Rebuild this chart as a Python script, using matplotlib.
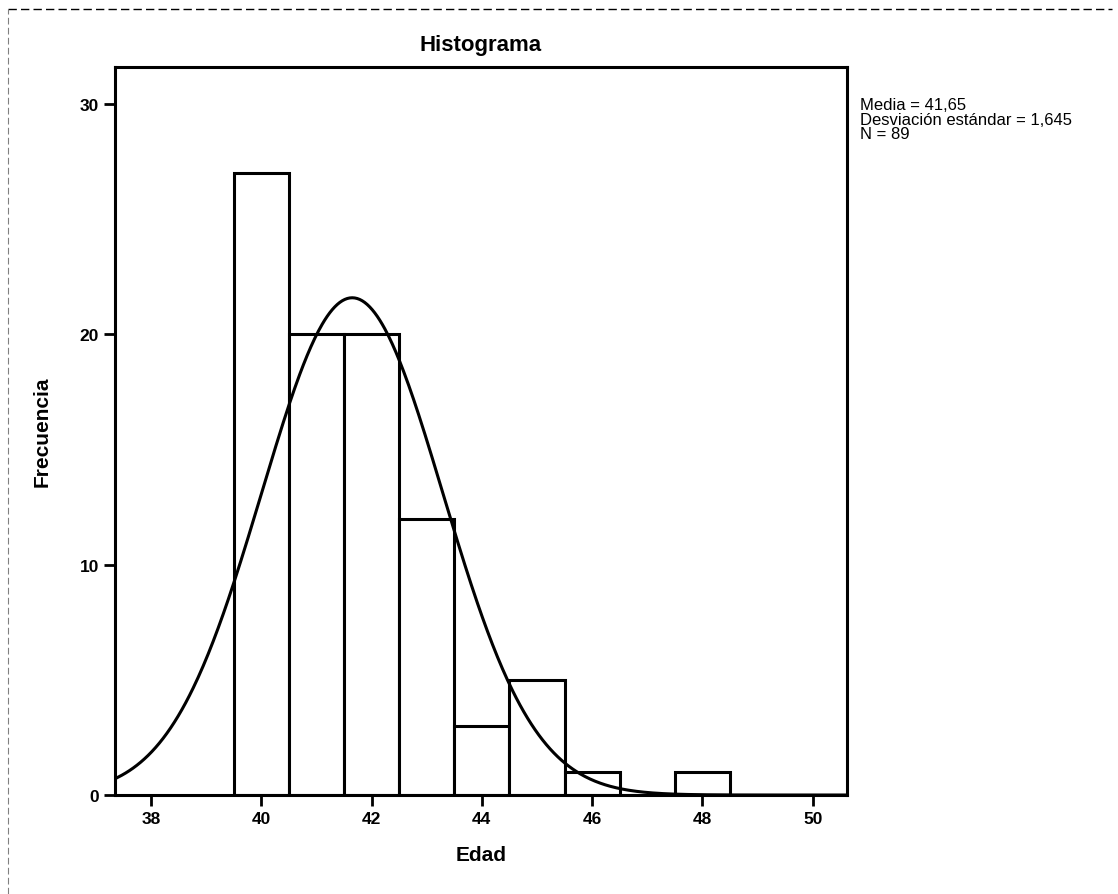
import matplotlib
matplotlib.use("Agg")
import matplotlib.pyplot as plt
import numpy as np
from matplotlib.lines import Line2D

# -- Data -----------------------------------------------------------------
bin_edges = [39.5, 40.5, 41.5, 42.5, 43.5, 44.5, 45.5, 46.5, 47.5, 48.5]
counts = [27, 20, 20, 12, 3, 5, 1, 0, 1]
mean_age = 41.65
sd_age = 1.645
n_total = 89
x_ticks = [38, 40, 42, 44, 46, 48, 50]
y_ticks = [0, 10, 20, 30]

plt.rcParams["font.family"] = ["Liberation Sans", "DejaVu Sans"]

fig = plt.figure(figsize=(11.18, 8.95), dpi=100, facecolor="white")
ax = fig.add_axes([0.1029, 0.1106, 0.6547, 0.8134])

lefts = bin_edges[:-1]
widths = np.diff(bin_edges)
ax.bar(lefts, counts, width=widths, align="edge", facecolor="white",
       edgecolor="black", linewidth=2.2, zorder=2)

# Normal curve scaled to counts
bw = widths[0]
xs = np.linspace(37.2, 50.8, 600)
ys = n_total * bw / (sd_age * np.sqrt(2 * np.pi)) * np.exp(-0.5 * ((xs - mean_age) / sd_age) ** 2)
ax.plot(xs, ys, color="black", linewidth=2.2, zorder=3)

ax.set_xlim(37.35, 50.62)
ax.set_ylim(0, 31.6)
ax.set_xticks(x_ticks)
ax.set_yticks(y_ticks)
ax.tick_params(axis="both", direction="out", length=8, width=2, labelsize=12.5)
for lab in ax.get_xticklabels() + ax.get_yticklabels():
    lab.set_fontweight("bold")
for sp in ax.spines.values():
    sp.set_linewidth(2.2)

ax.set_xlabel("Edad", fontsize=15, fontweight="bold", labelpad=14)
ax.set_ylabel("Frecuencia", fontsize=15, fontweight="bold", labelpad=20)
ax.set_title("Histograma", fontsize=16, fontweight="bold", pad=12)

stats = f"Media = {mean_age:.2f}\nDesviación estándar = {sd_age:.3f}\nN = {n_total}".replace(".", ",")
fig.text(0.769, 0.890, stats, fontsize=12, va="top", ha="left", linespacing=0.95)

# faint dashed page border
fig.add_artist(Line2D([0.007, 0.995], [0.989, 0.989], transform=fig.transFigure,
                      color="black", linewidth=1, linestyle=(0, (6, 3))))
fig.add_artist(Line2D([0.007, 0.007], [0.0, 0.989], transform=fig.transFigure,
                      color="gray", linewidth=0.8, linestyle=(0, (6, 3))))

fig.savefig("out.png", dpi=100, facecolor="white")
